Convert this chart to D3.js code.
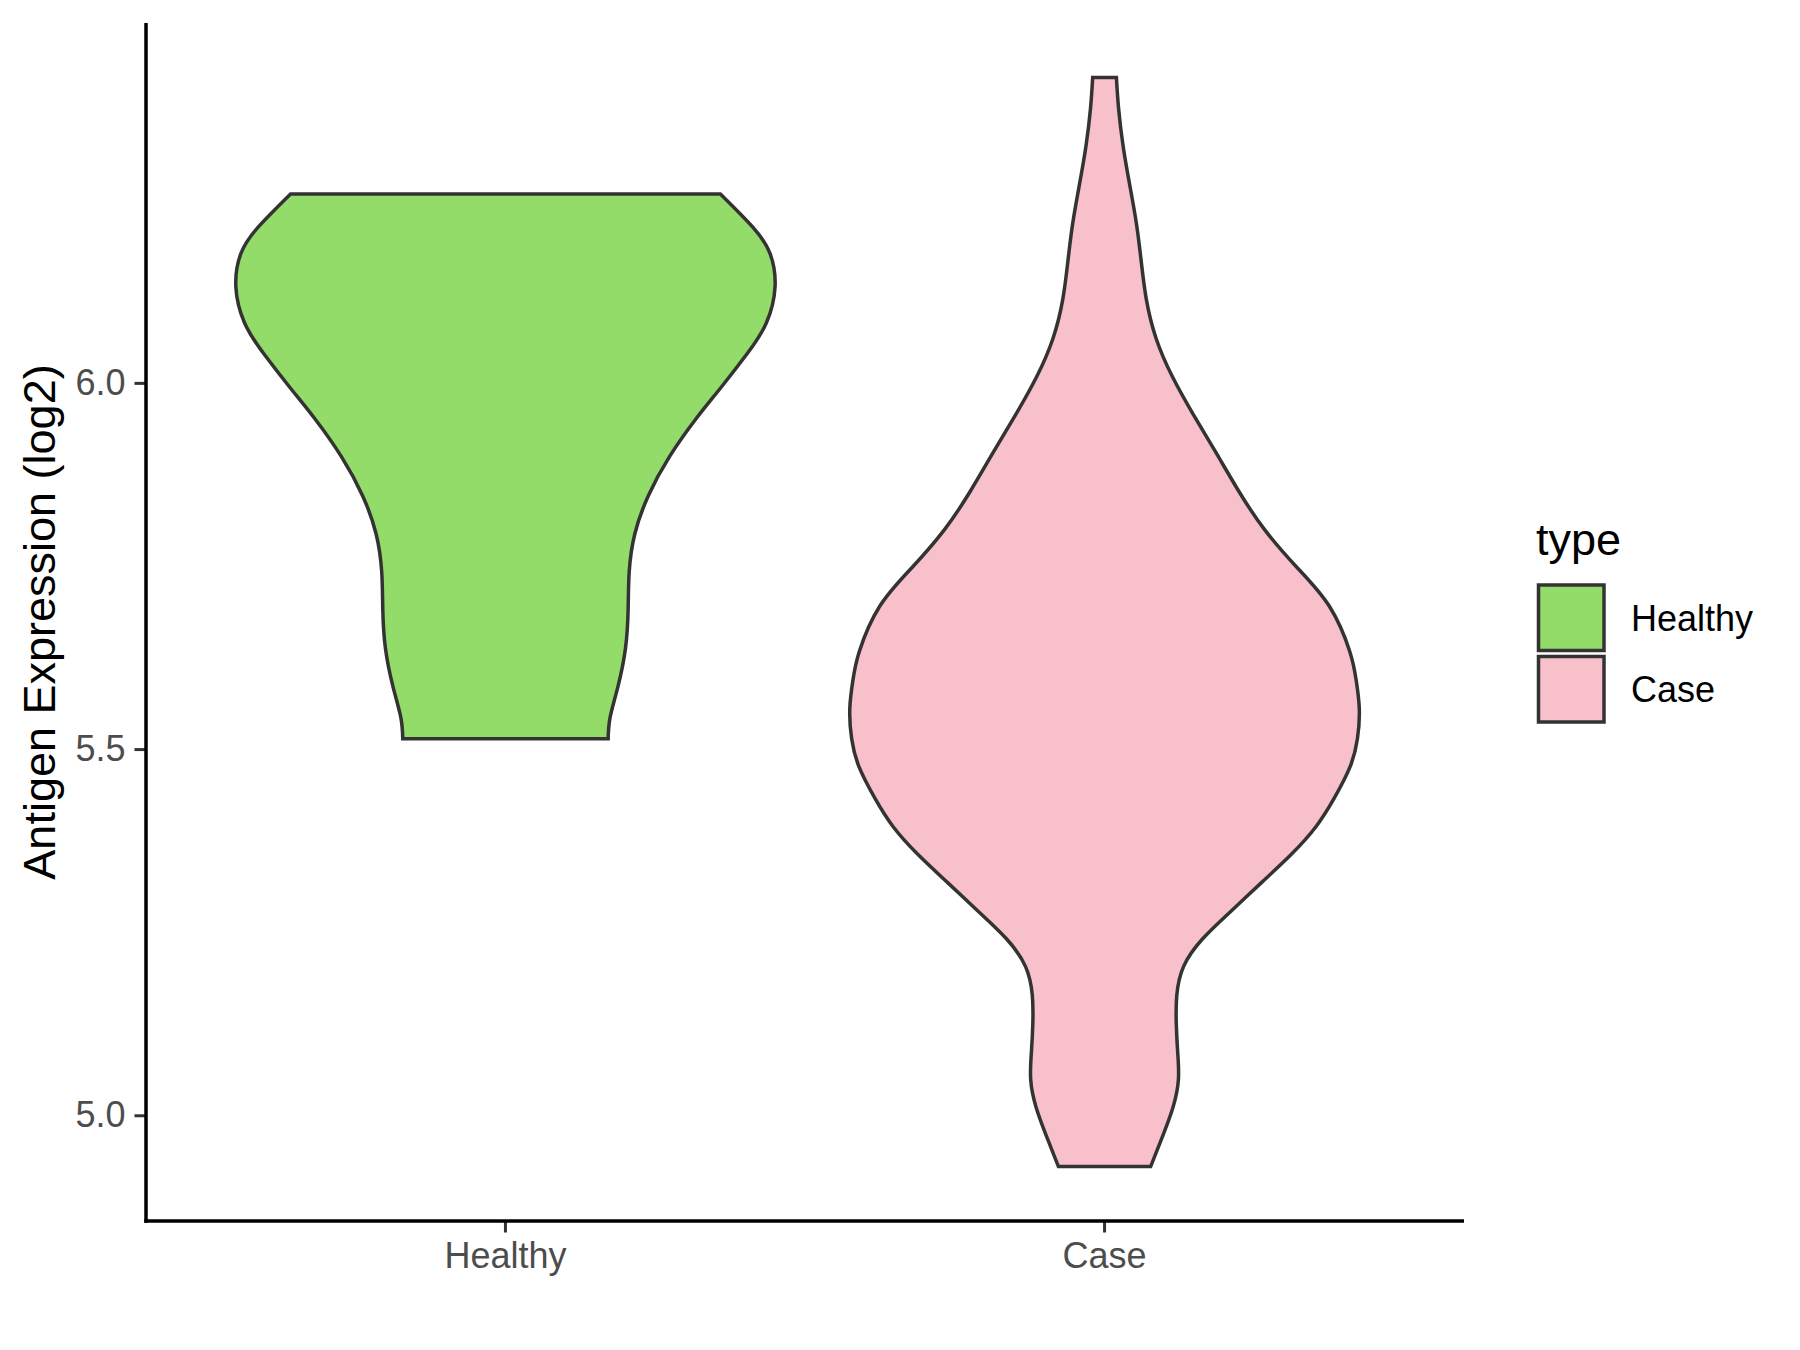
<!DOCTYPE html>
<html>
<head>
<meta charset="utf-8">
<script src="https://cdn.jsdelivr.net/npm/d3@7"></script>
<style>
  html, body { margin: 0; padding: 0; background: #ffffff; }
  svg { display: block; font-family: "Liberation Sans", Arial, sans-serif; }
</style>
</head>
<body>
<svg id="chart" width="1800" height="1350"></svg>
<script>
// ---- data ----
const categories = ["Healthy", "Case"];
const fillColors = ["#94DC6A", "#F7C0CB"];
const yTicks = [5.0, 5.5, 6.0];
const yTickLabels = ["5.0", "5.5", "6.0"];
const yTitle = "Antigen Expression (log2)";
const legendTitle = "type";

// violin outlines: expression value and relative density (1 = widest)
const healthyValues = [6.258, 6.212, 6.176, 6.131, 6.082, 6.040, 5.993, 5.951, 5.899, 5.846, 5.794, 5.742, 5.690, 5.637, 5.585, 5.543, 5.514];
const healthyDensity = [0.797, 0.919, 0.982, 1.000, 0.968, 0.897, 0.798, 0.707, 0.608, 0.530, 0.480, 0.459, 0.455, 0.445, 0.417, 0.388, 0.381];

const caseValues = [6.417, 6.375, 6.323, 6.271, 6.218, 6.166, 6.114, 6.061, 6.009, 5.957, 5.905, 5.852, 5.800, 5.748, 5.695, 5.634, 5.595, 5.555, 5.514, 5.476, 5.433, 5.394, 5.356, 5.318, 5.279, 5.241, 5.203, 5.164, 5.126, 5.088, 5.049, 5.011, 4.973, 4.930];
const caseDensity = [0.044, 0.052, 0.069, 0.093, 0.118, 0.136, 0.155, 0.191, 0.251, 0.329, 0.413, 0.498, 0.593, 0.714, 0.834, 0.909, 0.933, 0.945, 0.938, 0.911, 0.852, 0.784, 0.692, 0.583, 0.470, 0.364, 0.293, 0.268, 0.266, 0.271, 0.274, 0.254, 0.217, 0.171];

// ---- layout ----
const panel = { left: 146, right: 1464, top: 23, bottom: 1221 };
const svg = d3.select("#chart");

const violins = [
  { cat: "Healthy", values: healthyValues, density: healthyDensity, fill: fillColors[0] },
  { cat: "Case", values: caseValues, density: caseDensity, fill: fillColors[1] }
];

const allVals = healthyValues.concat(caseValues);
const vMin = d3.min(allVals), vMax = d3.max(allVals);
const pad = (vMax - vMin) * 0.05;

const y = d3.scaleLinear().domain([vMin - pad, vMax + pad]).range([panel.bottom, panel.top]);
const x = d3.scaleBand().domain(categories).range([panel.left, panel.right])
  .paddingInner(0).paddingOuter(0.1).align(0.5);
const w = d3.scaleLinear().domain([0, 1]).range([0, x.step() * 0.45]);

// ---- violins ----
violins.forEach(v => {
  const cx = x(v.cat) + x.bandwidth() / 2;
  const pts = v.values.map((val, i) => ({ v: val, d: v.density[i] }));
  const area = d3.area()
    .y(d => y(d.v))
    .x0(d => cx - w(d.d))
    .x1(d => cx + w(d.d))
    .curve(d3.curveNatural);
  svg.append("path")
    .attr("d", area(pts))
    .attr("fill", v.fill)
    .attr("stroke", "#333333")
    .attr("stroke-width", 3.5)
    .attr("stroke-linejoin", "miter");
});

// ---- axes ----
const yAxis = d3.axisLeft(y).tickValues(yTicks).tickFormat((d, i) => yTickLabels[i]).tickSize(11.5).tickPadding(9);
const gy = svg.append("g").attr("transform", `translate(${panel.left},0)`).call(yAxis);
gy.select(".domain").remove();
gy.selectAll(".tick line").attr("stroke", "#333333").attr("stroke-width", 3);
gy.selectAll(".tick text").attr("fill", "#4D4D4D").attr("font-size", 36)
  .attr("font-family", "Liberation Sans, Arial, sans-serif");

const xAxis = d3.axisBottom(x).tickSize(11.5).tickPadding(10);
const gx = svg.append("g").attr("transform", `translate(0,${panel.bottom})`).call(xAxis);
gx.select(".domain").remove();
gx.selectAll(".tick line").attr("stroke", "#333333").attr("stroke-width", 3);
gx.selectAll(".tick text").attr("fill", "#4D4D4D").attr("font-size", 36)
  .attr("font-family", "Liberation Sans, Arial, sans-serif");

// axis lines
svg.append("line").attr("x1", panel.left).attr("x2", panel.left)
  .attr("y1", panel.top).attr("y2", panel.bottom + 1.75)
  .attr("stroke", "#000").attr("stroke-width", 3.5);
svg.append("line").attr("x1", panel.left - 1.75).attr("x2", panel.right)
  .attr("y1", panel.bottom).attr("y2", panel.bottom)
  .attr("stroke", "#000").attr("stroke-width", 3.5);

// y title
svg.append("text")
  .attr("transform", `translate(55,${(panel.top + panel.bottom) / 2}) rotate(-90)`)
  .attr("text-anchor", "middle")
  .attr("font-size", 45)
  .attr("fill", "#000")
  .text(yTitle);

// ---- legend ----
const lg = svg.append("g");
lg.append("text").attr("x", 1536).attr("y", 555).attr("font-size", 45).attr("fill", "#000").text(legendTitle);
categories.forEach((c, i) => {
  const top = 585 + i * 71.5;
  lg.append("rect").attr("x", 1538.5).attr("y", top).attr("width", 65.5).attr("height", 65.5)
    .attr("fill", fillColors[i]).attr("stroke", "#333333").attr("stroke-width", 3.5);
  lg.append("text").attr("x", 1631).attr("y", top + 45.5).attr("font-size", 36).attr("fill", "#000").text(c);
});
</script>
</body>
</html>
